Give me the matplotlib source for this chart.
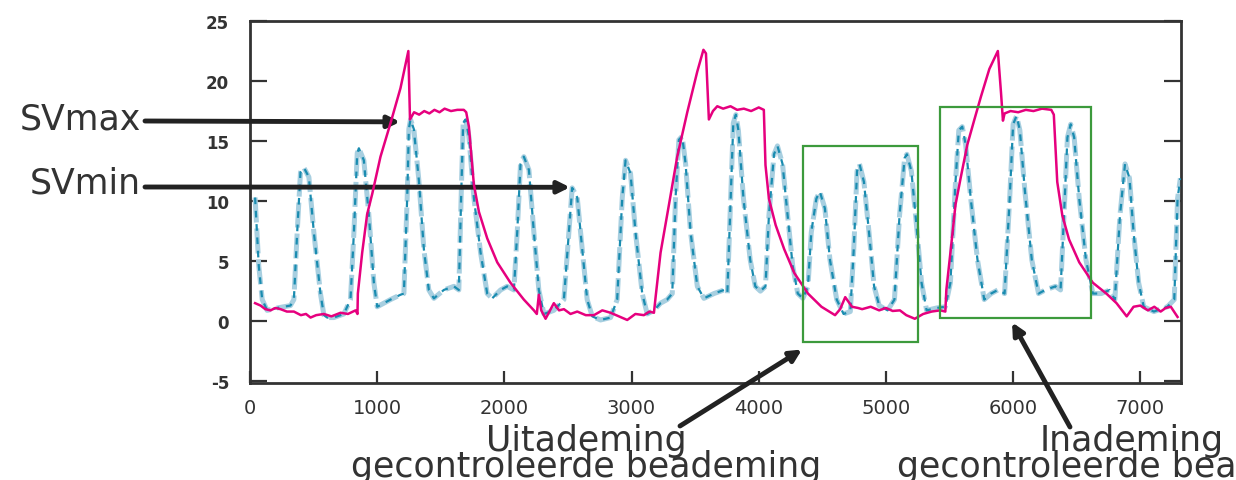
import matplotlib
matplotlib.use('Agg')  # no display

import matplotlib.pyplot as plt
from matplotlib.patches import Rectangle

plt.rcParams['axes.unicode_minus'] = False

# -------------------------
# Data
# -------------------------
# pink: solid curve (slow in/out cycles)
pink_x = [40, 83, 120, 161, 200, 240, 290, 345, 400, 440, 476, 520, 581, 640,
          712, 770, 830, 845, 848, 882, 921, 961, 1026, 1105, 1183, 1245, 1258,
          1290, 1330, 1370, 1410, 1450, 1490, 1530, 1580, 1630, 1681, 1700,
          1721, 1760, 1800, 1865, 1944, 2048, 2153, 2232, 2255, 2271, 2290,
          2324, 2389, 2430, 2468, 2520, 2573, 2640, 2704, 2770, 2835, 2900,
          2966, 3030, 3097, 3140, 3176, 3189, 3228, 3294, 3359, 3438, 3517,
          3565, 3585, 3608, 3640, 3674, 3720, 3778, 3830, 3883, 3940, 4000,
          4040, 4053, 4080, 4133, 4200, 4280, 4387, 4493, 4600, 4640, 4680,
          4733, 4780, 4813, 4880, 4947, 5000, 5053, 5110, 5160, 5227, 5293,
          5360, 5427, 5467, 5475, 5507, 5547, 5587, 5640, 5693, 5747, 5813,
          5880, 5905, 5920, 5933, 5980, 6040, 6100, 6160, 6227, 6300, 6320,
          6347, 6387, 6440, 6520, 6627, 6733, 6813, 6893, 6947, 7000, 7060,
          7110, 7160, 7200, 7240, 7293]
pink_y = [1.5, 1.3, 1.0, 0.9, 1.1, 1.0, 0.8, 0.8, 0.5, 0.6, 0.3, 0.5, 0.6, 0.4,
          0.7, 0.6, 0.9, 0.6, 2.3, 5.7, 8.9, 10.6, 13.7, 16.5, 19.4, 22.5, 16.8,
          17.4, 17.2, 17.5, 17.3, 17.6, 17.4, 17.7, 17.5, 17.6, 17.6, 17.4,
          16.2, 11.4, 9.1, 6.9, 4.9, 3.2, 1.8, 0.9, 0.6, 2.2, 0.9,
          0.2, 1.5, 0.9, 1.0, 0.6, 0.8, 0.5, 0.5, 0.9, 0.7, 0.4,
          0.1, 0.6, 0.5, 0.8, 0.7, 2.0, 5.7, 9.7, 13.7, 17.4, 20.8,
          22.6, 22.3, 16.8, 17.5, 17.9, 17.7, 17.9, 17.6, 17.7, 17.5, 17.8,
          17.6, 13.0, 10.2, 8.0, 6.0, 4.0, 2.3, 1.2, 0.5, 1.0, 2.0,
          1.2, 1.1, 1.0, 1.2, 0.9, 1.1, 0.85, 0.9, 0.5, 0.2, 0.6,
          0.8, 0.9, 0.8, 2.6, 5.7, 9.7, 11.9, 14.7, 16.7, 18.7, 21.0,
          22.5, 19.0, 16.7, 17.3, 17.5, 17.4, 17.6, 17.5, 17.7, 17.6, 17.2,
          11.6, 8.8, 6.8, 4.9, 3.2, 2.3, 1.5, 0.4, 1.2, 1.3, 0.9,
          1.2, 0.8, 1.1, 1.2, 0.35]

# blue: dashed curve (fast breath cycles)
blue_x = [40, 69, 96, 135, 214, 318, 345, 371, 397, 423, 463, 502, 554, 581,
          607, 659, 738, 790, 817, 843, 856, 895, 934, 974, 1000, 1052, 1105,
          1183, 1210, 1236, 1249, 1262, 1288, 1328, 1367, 1406, 1446, 1524,
          1603, 1642, 1660, 1676, 1695, 1721, 1760, 1813, 1865, 1904, 1970,
          2022, 2075, 2101, 2127, 2153, 2193, 2232, 2271, 2311, 2389, 2468,
          2507, 2533, 2573, 2612, 2651, 2691, 2756, 2835, 2887, 2927, 2953,
          2992, 3031, 3084, 3123, 3176, 3228, 3280, 3320, 3346, 3372, 3398,
          3425, 3464, 3517, 3569, 3648, 3727, 3753, 3779, 3800, 3820, 3840,
          3880, 3933, 3973, 4013, 4053, 4080, 4120, 4147, 4187, 4227, 4267,
          4307, 4347, 4387, 4413, 4453, 4480, 4520, 4560, 4613, 4667, 4720,
          4747, 4773, 4792, 4827, 4867, 4907, 4947, 5013, 5067, 5107, 5147,
          5165, 5200, 5240, 5280, 5320, 5400, 5467, 5507, 5547, 5573, 5600,
          5627, 5667, 5720, 5773, 5827, 5880, 5933, 5973, 6000, 6027, 6053,
          6093, 6147, 6200, 6253, 6333, 6373, 6400, 6427, 6453, 6480, 6520,
          6573, 6627, 6693, 6760, 6800, 6840, 6880, 6915, 6947, 6987, 7027,
          7107, 7213, 7267, 7293, 7315]
blue_y = [10.3, 4.6, 1.8, 0.9, 1.1, 1.3, 1.8, 7.4, 12.4, 12.8, 12.0, 7.4, 2.3, 0.5,
          0.3, 0.3, 0.6, 1.8, 7.4, 14.0, 14.4, 13.4, 8.9, 3.2, 1.2, 1.5, 1.8,
          2.2, 2.3, 10.3, 16.0, 16.8, 16.0, 11.7, 6.0, 2.6, 1.9, 2.6,
          2.9, 2.6, 10.3, 16.5, 16.8, 15.4, 10.3, 5.7, 2.3, 1.9, 2.6,
          2.9, 2.6, 7.4, 13.1, 13.7, 12.6, 7.4, 2.6, 0.6, 0.9, 1.8,
          7.4, 11.1, 10.3, 6.0, 1.8, 0.4, 0.1, 0.3, 1.8, 10.3, 13.4,
          12.3, 7.4, 2.3, 0.6, 0.9, 1.5, 1.8, 2.3, 10.3, 15.1, 15.4,
          13.1, 7.4, 2.9, 1.9, 2.3, 2.6, 2.3, 10.3, 16.5, 17.2, 15.9,
          10.2, 5.1, 2.9, 2.5, 2.9, 8.8, 13.9, 14.6, 13.1, 8.8, 4.6,
          2.3, 1.9, 2.9, 7.4, 10.2, 10.8, 9.4, 5.1, 1.8, 0.6, 0.8,
          6.0, 12.5, 13.1, 11.6, 7.4, 2.9, 1.3, 0.9, 1.8, 8.8, 13.6,
          13.9, 12.5, 8.0, 3.2, 0.9, 1.1, 1.2, 3.2, 11.6, 15.9, 16.2,
          14.7, 10.2, 5.1, 1.8, 2.3, 2.6, 2.3, 10.2, 16.4, 17.1, 15.9,
          10.8, 5.1, 2.3, 2.6, 2.9, 2.6, 8.8, 15.3, 16.4, 15.3, 10.2,
          5.1, 2.3, 2.3, 2.6, 1.8, 8.8, 13.1, 11.9, 7.4, 3.2, 1.2,
          0.8, 1.2, 1.8, 10.2, 11.9]

x_ticks = [0, 1000, 2000, 3000, 4000, 5000, 6000, 7000]
y_ticks = [-5, 0, 5, 10, 15, 20, 25]

# green boxes: (x0, y0, x1, y1)
box_exp = (4348, -1.75, 5252, 14.6)
box_insp = (5425, 0.25, 6613, 17.85)

label_exp = 'Uitademing\ngecontroleerde beademing'
label_insp = 'Inademing\ngecontroleerde beademing'

# -------------------------
# Plot
# -------------------------
W, H = 1236, 481
fig = plt.figure(figsize=(W / 100, H / 100), dpi=100)
ax = fig.add_axes([250 / W, 97 / H, 931 / W, 362 / H])

ax.plot(blue_x, blue_y, color='#a8cfe0', lw=3.6, dashes=(5, 1.2), zorder=2)
ax.plot(blue_x, blue_y, color='#1a8cb0', lw=1.6, dashes=(3, 3), zorder=3)
ax.plot(pink_x, pink_y, color='#e6007e', lw=1.8, zorder=4)

for x0, y0, x1, y1 in (box_exp, box_insp):
    ax.add_patch(Rectangle((x0, y0), x1 - x0, y1 - y0, fill=False,
                           edgecolor='#3c9a3c', lw=1.6, zorder=5))

ax.set_xlim(0, 7320)
ax.set_ylim(-5.15, 25)
ax.set_xticks(x_ticks)
ax.set_yticks(y_ticks)

for s in ax.spines.values():
    s.set_color('#333333')
    s.set_linewidth(2)

ax.tick_params(axis='y', direction='in', left=True, right=True, length=12,
               width=1.6, color='#333333', pad=15, labelsize=12,
               labelcolor='#333333')
ax.tick_params(axis='x', direction='in', length=9, width=1.6,
               color='#333333', pad=11, labelsize=14, labelcolor='#333333')
for lab in ax.get_yticklabels():
    lab.set_fontweight('bold')

# -------------------------
# Annotations
# -------------------------
arrow = dict(arrowstyle='-|>,head_length=0.7,head_width=0.35', lw=3.5,
             color='#222222', shrinkA=0, shrinkB=0)

fig.text(141, 361, 'SVmax', transform=None, ha='right', va='center',
         fontsize=25, color='#333333')
fig.text(141, 297, 'SVmin', transform=None, ha='right', va='center',
         fontsize=25, color='#333333')
ax.annotate('', xy=(1180, 16.6), xytext=(145, 359),
            textcoords='figure pixels', arrowprops=arrow)
ax.annotate('', xy=(2516, 11.15), xytext=(145, 293),
            textcoords='figure pixels', arrowprops=arrow)

ax.annotate('', xy=(4340, -2.36), xytext=(680, 54),
            textcoords='figure pixels', arrowprops=arrow)
ax.annotate('', xy=(5992, -0.1), xytext=(1070, 53),
            textcoords='figure pixels', arrowprops=arrow)

fig.text(586, 4, label_exp, transform=None, ha='center', va='baseline',
         multialignment='center', linespacing=0.72, fontsize=25,
         color='#333333')
fig.text(897, 4, label_insp, transform=None, ha='left', va='baseline',
         multialignment='center', linespacing=0.72, fontsize=25,
         color='#333333')

plt.savefig('out.png', dpi=100)
print("saved out.png")
